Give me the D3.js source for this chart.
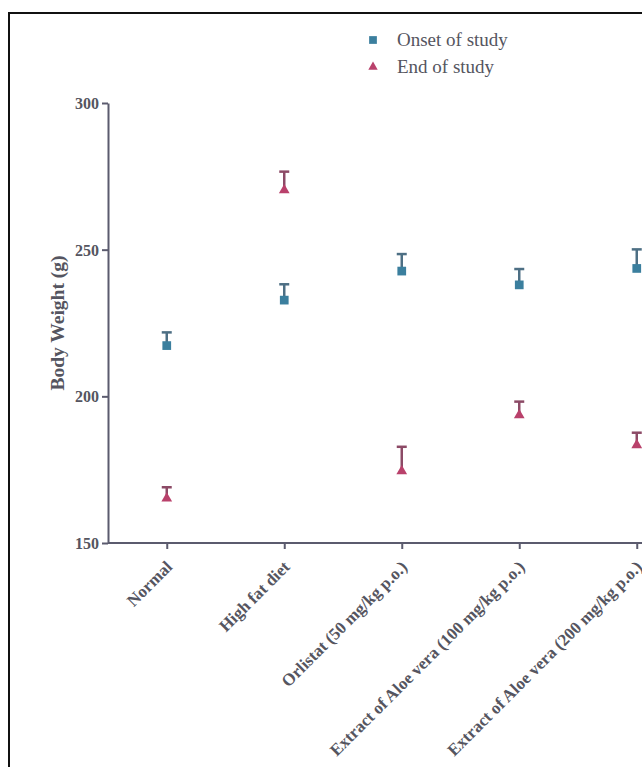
<!DOCTYPE html>
<html>
<head>
<meta charset="utf-8">
<script src="https://cdn.jsdelivr.net/npm/d3@7"></script>
<style>
  body { margin: 0; background: #fff; }
  svg { display: block; }
  .axis path, .axis line { stroke: #5b5b6e; stroke-width: 2; }
  .axis text { font-family: "Liberation Serif", serif; font-weight: bold; font-size: 16px; fill: #555560; }
  .x-axis text { font-size: 17px; }
</style>
</head>
<body>
<div id="chart"></div>
<script>
const groups = [
  "Normal",
  "High fat diet",
  "Orlistat (50 mg/kg p.o.)",
  "Extract of Aloe vera (100 mg/kg p.o.)",
  "Extract of Aloe vera (200 mg/kg p.o.)"
];
const onsetMean = [217.3, 232.8, 242.7, 238.0, 243.6];
const onsetSem  = [4.5, 5.4, 5.8, 5.4, 6.5];
const endMean   = [165.2, 270.3, 174.5, 193.6, 183.4];
const endSem    = [3.8, 6.3, 8.3, 4.6, 4.2];
const yTicks    = [150, 200, 250, 300];

const width = 642, height = 767;
const margin = { left: 108, top: 103, bottom: 224 };

const onsetColor = "#3b7f9e", onsetBar = "#4d6f84";
const endColor   = "#b9416b", endBar   = "#8c4a66";

const svg = d3.select("#chart")
  .append("svg")
    .attr("width", width)
    .attr("height", height);

// frame (picture is cropped on the right and bottom)
svg.append("path")
  .attr("d", `M9,${height} V13 H${width}`)
  .attr("fill", "none")
  .attr("stroke", "#111")
  .attr("stroke-width", 2);

const x = d3.scalePoint()
  .domain(groups)
  .range([margin.left, margin.left + 5 * 117.5])
  .padding(0.5);

const y = d3.scaleLinear()
  .domain([150, 300])
  .range([height - margin.bottom, margin.top]);

// y axis
svg.append("g")
  .attr("class", "axis")
  .attr("transform", `translate(${margin.left},0)`)
  .call(d3.axisLeft(y).tickValues(yTicks).tickSize(6).tickPadding(3).tickSizeOuter(0))
  .call(g => g.selectAll("text").attr("dy", "0.35em"));

// x axis
svg.append("g")
  .attr("class", "axis x-axis")
  .attr("transform", `translate(0,${y(150)})`)
  .call(d3.axisBottom(x).tickSize(6).tickSizeOuter(0))
  .call(g => g.select("path.domain").attr("d", `M${margin.left},0H${width + 20}`))
  .call(g => g.selectAll("text")
    .attr("text-anchor", "end")
    .attr("dy", "0")
    .attr("transform", "translate(6,25) rotate(-45)")
    .attr("y", 0)
    .attr("x", 0));

// y title
svg.append("text")
  .attr("transform", `translate(64,${(y(150) + y(300)) / 2}) rotate(-90)`)
  .attr("text-anchor", "middle")
  .attr("font-family", "Liberation Serif, serif")
  .attr("font-weight", "bold")
  .attr("font-size", 19.5)
  .attr("fill", "#555560")
  .text("Body Weight (g)");

const series = [
  { name: "Onset of study", mean: onsetMean, sem: onsetSem, color: onsetColor, bar: onsetBar, shape: d3.symbolSquare, size: 76 },
  { name: "End of study", mean: endMean, sem: endSem, color: endColor, bar: endBar, shape: d3.symbolTriangle, size: 50 }
];

series.forEach(s => {
  const pts = groups.map((g, i) => ({ g, m: s.mean[i], e: s.sem[i] }));
  const grp = svg.append("g");
  grp.selectAll("line.err")
    .data(pts)
    .join("line")
      .attr("class", "err")
      .attr("x1", d => x(d.g)).attr("x2", d => x(d.g))
      .attr("y1", d => y(d.m)).attr("y2", d => y(d.m + d.e))
      .attr("stroke", s.bar).attr("stroke-width", 2.5);
  grp.selectAll("line.cap")
    .data(pts)
    .join("line")
      .attr("class", "cap")
      .attr("x1", d => x(d.g) - 5).attr("x2", d => x(d.g) + 5)
      .attr("y1", d => y(d.m + d.e)).attr("y2", d => y(d.m + d.e))
      .attr("stroke", s.bar).attr("stroke-width", 2.5);
  grp.selectAll("path.mark")
    .data(pts)
    .join("path")
      .attr("class", "mark")
      .attr("transform", d => `translate(${x(d.g)},${y(d.m)})`)
      .attr("d", d3.symbol(s.shape, s.size))
      .attr("fill", s.color);
});

// legend
const legend = svg.append("g").attr("transform", "translate(373,40)");
series.forEach((s, i) => {
  const row = legend.append("g").attr("transform", `translate(0,${i * 27})`);
  row.append("path")
    .attr("d", d3.symbol(s.shape, i === 0 ? 60 : 38))
    .attr("fill", s.color);
  row.append("text")
    .attr("x", 24).attr("y", 6)
    .attr("font-family", "Liberation Serif, serif")
    .attr("font-size", 19)
    .attr("fill", "#555560")
    .text(s.name);
});
</script>
</body>
</html>
